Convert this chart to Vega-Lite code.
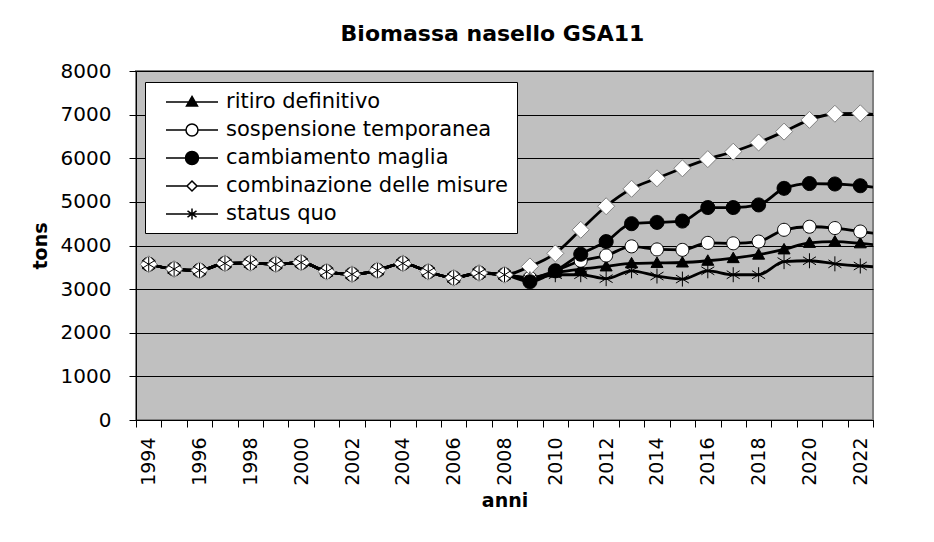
{
  "$schema": "https://vega.github.io/schema/vega-lite/v6.json",
  "width": 737,
  "height": 349,
  "autosize": {"type": "none"},
  "padding": {"left": 136, "top": 71, "right": 61, "bottom": 122},
  "background": "white",
  "title": {"text": "Biomassa nasello GSA11", "font": "DejaVu Sans", "fontSize": 22, "fontWeight": "bold", "color": "black", "anchor": "middle", "frame": "group", "dx": -12, "baseline": "alphabetic", "offset": -2},
  "config": {"view": {"fill": "#C0C0C0", "stroke": "#808080", "strokeWidth": 2}, "font": "DejaVu Sans"},
  "resolve": {"scale": {"shape": "independent", "fill": "independent", "stroke": "independent"}},
  "data": {"values": [
    {"anno":1994,"serie":"ritiro definitivo","tons":3570},{"anno":1995,"serie":"ritiro definitivo","tons":3460},{"anno":1996,"serie":"ritiro definitivo","tons":3430},{"anno":1997,"serie":"ritiro definitivo","tons":3590},{"anno":1998,"serie":"ritiro definitivo","tons":3600},{"anno":1999,"serie":"ritiro definitivo","tons":3570},{"anno":2000,"serie":"ritiro definitivo","tons":3610},{"anno":2001,"serie":"ritiro definitivo","tons":3400},{"anno":2002,"serie":"ritiro definitivo","tons":3340},{"anno":2003,"serie":"ritiro definitivo","tons":3430},{"anno":2004,"serie":"ritiro definitivo","tons":3590},{"anno":2005,"serie":"ritiro definitivo","tons":3400},{"anno":2006,"serie":"ritiro definitivo","tons":3260},{"anno":2007,"serie":"ritiro definitivo","tons":3370},{"anno":2008,"serie":"ritiro definitivo","tons":3330},{"anno":2009,"serie":"ritiro definitivo","tons":3260},{"anno":2010,"serie":"ritiro definitivo","tons":3380},{"anno":2011,"serie":"ritiro definitivo","tons":3460},{"anno":2012,"serie":"ritiro definitivo","tons":3520},{"anno":2013,"serie":"ritiro definitivo","tons":3590},{"anno":2014,"serie":"ritiro definitivo","tons":3600},{"anno":2015,"serie":"ritiro definitivo","tons":3610},{"anno":2016,"serie":"ritiro definitivo","tons":3650},{"anno":2017,"serie":"ritiro definitivo","tons":3710},{"anno":2018,"serie":"ritiro definitivo","tons":3790},{"anno":2019,"serie":"ritiro definitivo","tons":3910},{"anno":2020,"serie":"ritiro definitivo","tons":4060},{"anno":2021,"serie":"ritiro definitivo","tons":4090},{"anno":2022,"serie":"ritiro definitivo","tons":4050},{"anno":2023,"serie":"ritiro definitivo","tons":3990},
    {"anno":1994,"serie":"sospensione temporanea","tons":3570},{"anno":1995,"serie":"sospensione temporanea","tons":3460},{"anno":1996,"serie":"sospensione temporanea","tons":3430},{"anno":1997,"serie":"sospensione temporanea","tons":3590},{"anno":1998,"serie":"sospensione temporanea","tons":3600},{"anno":1999,"serie":"sospensione temporanea","tons":3570},{"anno":2000,"serie":"sospensione temporanea","tons":3610},{"anno":2001,"serie":"sospensione temporanea","tons":3400},{"anno":2002,"serie":"sospensione temporanea","tons":3340},{"anno":2003,"serie":"sospensione temporanea","tons":3430},{"anno":2004,"serie":"sospensione temporanea","tons":3590},{"anno":2005,"serie":"sospensione temporanea","tons":3400},{"anno":2006,"serie":"sospensione temporanea","tons":3260},{"anno":2007,"serie":"sospensione temporanea","tons":3370},{"anno":2008,"serie":"sospensione temporanea","tons":3330},{"anno":2009,"serie":"sospensione temporanea","tons":3260},{"anno":2010,"serie":"sospensione temporanea","tons":3420},{"anno":2011,"serie":"sospensione temporanea","tons":3650},{"anno":2012,"serie":"sospensione temporanea","tons":3770},{"anno":2013,"serie":"sospensione temporanea","tons":3980},{"anno":2014,"serie":"sospensione temporanea","tons":3910},{"anno":2015,"serie":"sospensione temporanea","tons":3900},{"anno":2016,"serie":"sospensione temporanea","tons":4060},{"anno":2017,"serie":"sospensione temporanea","tons":4050},{"anno":2018,"serie":"sospensione temporanea","tons":4090},{"anno":2019,"serie":"sospensione temporanea","tons":4360},{"anno":2020,"serie":"sospensione temporanea","tons":4430},{"anno":2021,"serie":"sospensione temporanea","tons":4400},{"anno":2022,"serie":"sospensione temporanea","tons":4320},{"anno":2023,"serie":"sospensione temporanea","tons":4250},
    {"anno":1994,"serie":"cambiamento maglia","tons":3570},{"anno":1995,"serie":"cambiamento maglia","tons":3460},{"anno":1996,"serie":"cambiamento maglia","tons":3430},{"anno":1997,"serie":"cambiamento maglia","tons":3590},{"anno":1998,"serie":"cambiamento maglia","tons":3600},{"anno":1999,"serie":"cambiamento maglia","tons":3570},{"anno":2000,"serie":"cambiamento maglia","tons":3610},{"anno":2001,"serie":"cambiamento maglia","tons":3400},{"anno":2002,"serie":"cambiamento maglia","tons":3340},{"anno":2003,"serie":"cambiamento maglia","tons":3430},{"anno":2004,"serie":"cambiamento maglia","tons":3590},{"anno":2005,"serie":"cambiamento maglia","tons":3400},{"anno":2006,"serie":"cambiamento maglia","tons":3260},{"anno":2007,"serie":"cambiamento maglia","tons":3370},{"anno":2008,"serie":"cambiamento maglia","tons":3330},{"anno":2009,"serie":"cambiamento maglia","tons":3170},{"anno":2010,"serie":"cambiamento maglia","tons":3420},{"anno":2011,"serie":"cambiamento maglia","tons":3800},{"anno":2012,"serie":"cambiamento maglia","tons":4090},{"anno":2013,"serie":"cambiamento maglia","tons":4500},{"anno":2014,"serie":"cambiamento maglia","tons":4530},{"anno":2015,"serie":"cambiamento maglia","tons":4560},{"anno":2016,"serie":"cambiamento maglia","tons":4870},{"anno":2017,"serie":"cambiamento maglia","tons":4870},{"anno":2018,"serie":"cambiamento maglia","tons":4930},{"anno":2019,"serie":"cambiamento maglia","tons":5310},{"anno":2020,"serie":"cambiamento maglia","tons":5420},{"anno":2021,"serie":"cambiamento maglia","tons":5410},{"anno":2022,"serie":"cambiamento maglia","tons":5370},{"anno":2023,"serie":"cambiamento maglia","tons":5300},
    {"anno":1994,"serie":"combinazione delle misure","tons":3570},{"anno":1995,"serie":"combinazione delle misure","tons":3460},{"anno":1996,"serie":"combinazione delle misure","tons":3430},{"anno":1997,"serie":"combinazione delle misure","tons":3590},{"anno":1998,"serie":"combinazione delle misure","tons":3600},{"anno":1999,"serie":"combinazione delle misure","tons":3570},{"anno":2000,"serie":"combinazione delle misure","tons":3610},{"anno":2001,"serie":"combinazione delle misure","tons":3400},{"anno":2002,"serie":"combinazione delle misure","tons":3340},{"anno":2003,"serie":"combinazione delle misure","tons":3430},{"anno":2004,"serie":"combinazione delle misure","tons":3590},{"anno":2005,"serie":"combinazione delle misure","tons":3400},{"anno":2006,"serie":"combinazione delle misure","tons":3260},{"anno":2007,"serie":"combinazione delle misure","tons":3370},{"anno":2008,"serie":"combinazione delle misure","tons":3330},{"anno":2009,"serie":"combinazione delle misure","tons":3520},{"anno":2010,"serie":"combinazione delle misure","tons":3820},{"anno":2011,"serie":"combinazione delle misure","tons":4360},{"anno":2012,"serie":"combinazione delle misure","tons":4900},{"anno":2013,"serie":"combinazione delle misure","tons":5300},{"anno":2014,"serie":"combinazione delle misure","tons":5540},{"anno":2015,"serie":"combinazione delle misure","tons":5770},{"anno":2016,"serie":"combinazione delle misure","tons":5980},{"anno":2017,"serie":"combinazione delle misure","tons":6150},{"anno":2018,"serie":"combinazione delle misure","tons":6360},{"anno":2019,"serie":"combinazione delle misure","tons":6610},{"anno":2020,"serie":"combinazione delle misure","tons":6880},{"anno":2021,"serie":"combinazione delle misure","tons":7020},{"anno":2022,"serie":"combinazione delle misure","tons":7030},{"anno":2023,"serie":"combinazione delle misure","tons":6960},
    {"anno":1994,"serie":"status quo","tons":3570},{"anno":1995,"serie":"status quo","tons":3460},{"anno":1996,"serie":"status quo","tons":3430},{"anno":1997,"serie":"status quo","tons":3590},{"anno":1998,"serie":"status quo","tons":3600},{"anno":1999,"serie":"status quo","tons":3570},{"anno":2000,"serie":"status quo","tons":3610},{"anno":2001,"serie":"status quo","tons":3400},{"anno":2002,"serie":"status quo","tons":3340},{"anno":2003,"serie":"status quo","tons":3430},{"anno":2004,"serie":"status quo","tons":3590},{"anno":2005,"serie":"status quo","tons":3400},{"anno":2006,"serie":"status quo","tons":3260},{"anno":2007,"serie":"status quo","tons":3370},{"anno":2008,"serie":"status quo","tons":3330},{"anno":2009,"serie":"status quo","tons":3230},{"anno":2010,"serie":"status quo","tons":3330},{"anno":2011,"serie":"status quo","tons":3330},{"anno":2012,"serie":"status quo","tons":3240},{"anno":2013,"serie":"status quo","tons":3420},{"anno":2014,"serie":"status quo","tons":3300},{"anno":2015,"serie":"status quo","tons":3230},{"anno":2016,"serie":"status quo","tons":3420},{"anno":2017,"serie":"status quo","tons":3330},{"anno":2018,"serie":"status quo","tons":3330},{"anno":2019,"serie":"status quo","tons":3630},{"anno":2020,"serie":"status quo","tons":3650},{"anno":2021,"serie":"status quo","tons":3580},{"anno":2022,"serie":"status quo","tons":3530},{"anno":2023,"serie":"status quo","tons":3500}
  ]},
  "encoding": {
    "x": {"field": "anno", "type": "quantitative",
      "scale": {"domain": [1993.5, 2022.5], "nice": false, "zero": false},
      "axis": {"values": [1993.5,1994.5,1995.5,1996.5,1997.5,1998.5,1999.5,2000.5,2001.5,2002.5,2003.5,2004.5,2005.5,2006.5,2007.5,2008.5,2009.5,2010.5,2011.5,2012.5,2013.5,2014.5,2015.5,2016.5,2017.5,2018.5,2019.5,2020.5,2021.5,2022.5],
        "labelExpr": "datum.value % 2 == 1.5 ? toString(datum.value + 0.5) : ''",
        "labelAngle": -90, "labelOffset": 12.7, "labelFont": "DejaVu Sans", "labelFontSize": 19, "labelColor": "black", "labelPadding": 10,
        "labelOverlap": false, "labelFlush": false, "labelBound": false,
        "tickSize": 7, "tickColor": "black", "domainColor": "black", "grid": false,
        "title": "anni", "titleFont": "DejaVu Sans", "titleFontSize": 19, "titleFontWeight": "bold", "titleColor": "black", "titlePadding": 6}},
    "y": {"field": "tons", "type": "quantitative",
      "scale": {"domain": [0, 8000], "nice": false},
      "axis": {"values": [0,1000,2000,3000,4000,5000,6000,7000,8000], "format": "d",
        "labelFont": "DejaVu Sans", "labelFontSize": 20, "labelColor": "black", "labelPadding": 18,
        "tickSize": 7, "tickColor": "black", "domainColor": "black",
        "grid": true, "gridColor": "black", "gridWidth": 1, "gridOpacity": 1,
        "title": "tons", "titleFont": "DejaVu Sans", "titleFontSize": 19, "titleFontWeight": "bold", "titleColor": "black", "titlePadding": 10}}
  },
  "layer": [
    {"mark": {"type": "line", "color": "black", "strokeWidth": 2.8, "interpolate": "monotone", "clip": true},
     "encoding": {"detail": {"field": "serie", "type": "nominal"}}},
    {"mark": {"type": "point", "filled": true, "size": 400, "strokeWidth": 1, "opacity": 1, "clip": true},
     "encoding": {
       "fill": {"field": "serie", "type": "nominal",
         "scale": {"domain": ["ritiro definitivo","sospensione temporanea","cambiamento maglia","combinazione delle misure","status quo"],
           "range": ["black","white","black","white","transparent"]}, "legend": null},
       "stroke": {"field": "serie", "type": "nominal",
         "scale": {"domain": ["ritiro definitivo","sospensione temporanea","cambiamento maglia","combinazione delle misure","status quo"],
           "range": ["black","black","black","#808080","black"]}, "legend": null},
       "shape": {"field": "serie", "type": "nominal",
         "scale": {"domain": ["ritiro definitivo","sospensione temporanea","cambiamento maglia","combinazione delle misure","status quo"],
           "range": ["M0,-0.6L0.6,0.45L-0.6,0.45Z", "M-0.65,0A0.65,0.65,0,1,1,0.65,0A0.65,0.65,0,1,1,-0.65,0Z", "M-0.7,0A0.7,0.7,0,1,1,0.7,0A0.7,0.7,0,1,1,-0.7,0Z", "M0,-0.85L0.85,0L0,0.85L-0.85,0Z", "M0,-0.75L0,0.75M-0.65,-0.4L0.65,0.4M-0.65,0.4L0.65,-0.4"]},
         "legend": null}
     }},
    {"transform": [{"filter": "datum.anno == 2023"}],
     "mark": {"type": "point", "filled": true, "size": 400, "strokeWidth": 1.5, "opacity": 1, "clip": true},
     "encoding": {
       "fill": {"field": "serie", "type": "nominal",
         "scale": {"domain": ["ritiro definitivo","sospensione temporanea","cambiamento maglia","combinazione delle misure","status quo"],
           "range": ["black","white","black","white","transparent"]},
         "legend": {"title": null, "orient": "none", "legendX": 9, "legendY": 11, "direction": "vertical",
           "fillColor": "white", "strokeColor": "black", "padding": 9, "cornerRadius": 0,
           "labelFont": "DejaVu Sans", "labelFontSize": 21, "labelColor": "black", "labelOffset": 50, "labelLimit": 500,
           "symbolSize": 400, "rowPadding": 7, "symbolStrokeWidth": 1.5, "symbolOpacity": 1}},
       "stroke": {"field": "serie", "type": "nominal",
         "scale": {"domain": ["ritiro definitivo","sospensione temporanea","cambiamento maglia","combinazione delle misure","status quo"],
           "range": ["black","black","black","black","black"]},
         "legend": {"title": null, "orient": "none", "legendX": 9, "legendY": 11, "direction": "vertical",
           "fillColor": "white", "strokeColor": "black", "padding": 9, "cornerRadius": 0,
           "labelFont": "DejaVu Sans", "labelFontSize": 21, "labelColor": "black", "labelOffset": 50, "labelLimit": 500,
           "symbolSize": 400, "rowPadding": 7, "symbolStrokeWidth": 1.5, "symbolOpacity": 1}},
       "shape": {"field": "serie", "type": "nominal",
         "scale": {"domain": ["ritiro definitivo","sospensione temporanea","cambiamento maglia","combinazione delle misure","status quo"],
           "range": ["M0.1,0L5.3,0M2.7,-0.55L3.25,0.4L2.15,0.4Z", "M0.1,0L2.1,0M3.3,0L5.3,0M2.1,0A0.6,0.6,0,1,1,3.3,0A0.6,0.6,0,1,1,2.1,0Z", "M0.1,0L5.3,0M2.05,0A0.65,0.65,0,1,1,3.35,0A0.65,0.65,0,1,1,2.05,0Z", "M0.1,0L2.2,0M3.2,0L5.3,0M2.7,-0.5L3.2,0L2.7,0.5L2.2,0Z", "M0.1,0L5.3,0M2.7,-0.55L2.7,0.55M2.25,-0.32L3.15,0.32M2.25,0.32L3.15,-0.32"]},
         "legend": {"title": null, "orient": "none", "legendX": 9, "legendY": 11, "direction": "vertical",
           "fillColor": "white", "strokeColor": "black", "padding": 9, "cornerRadius": 0,
           "labelFont": "DejaVu Sans", "labelFontSize": 21, "labelColor": "black", "labelOffset": 50, "labelLimit": 500,
           "symbolSize": 400, "rowPadding": 7, "symbolStrokeWidth": 1.5, "symbolOpacity": 1}}
     }}
  ]
}
